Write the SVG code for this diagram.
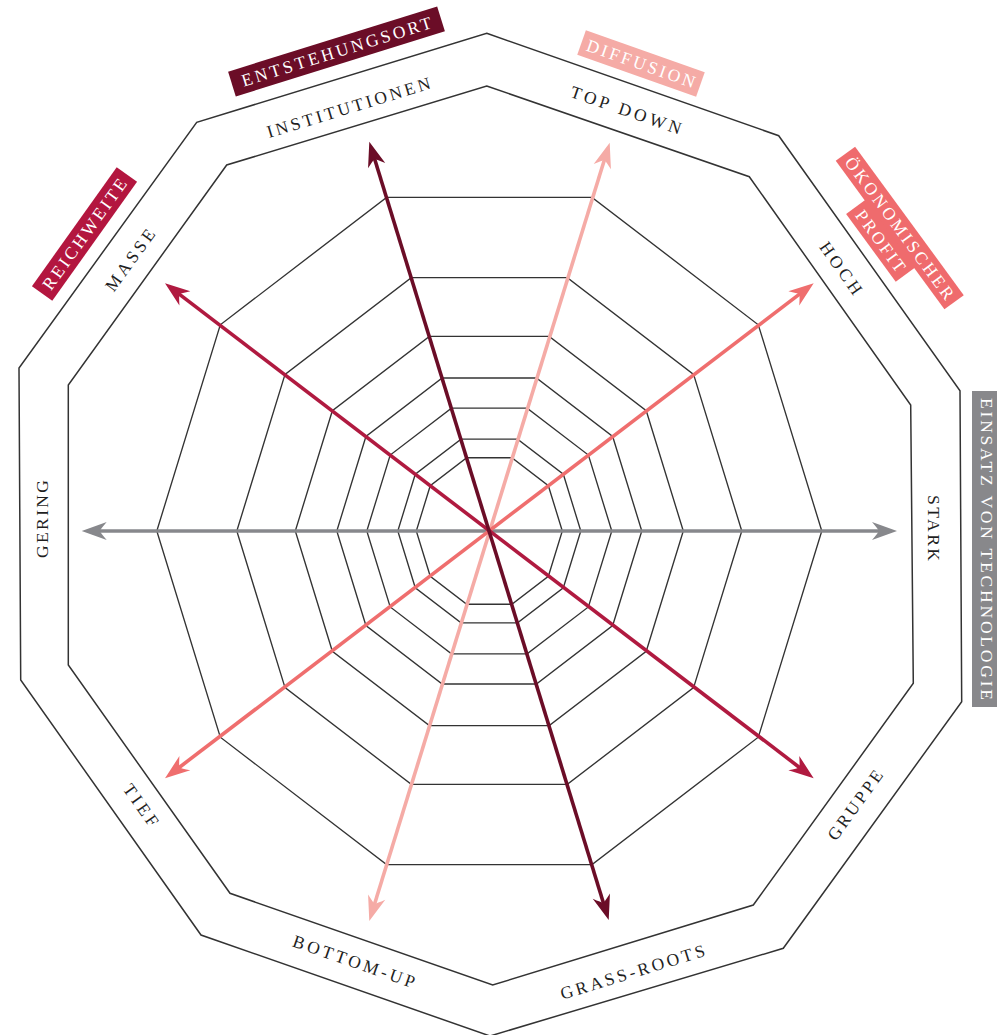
<svg xmlns="http://www.w3.org/2000/svg" width="997" height="1035" viewBox="0 0 997 1035">
<style>
.frame{fill:none;stroke:#333333;stroke-width:1.5;stroke-linejoin:miter}
.grid{fill:none;stroke:#333333;stroke-width:1.35}
.lbl{font-family:"Liberation Serif","DejaVu Serif",serif;font-size:17.5px;fill:#1f1f1f;text-anchor:middle}
.tag{font-family:"Liberation Serif","DejaVu Serif",serif;font-size:17.5px;fill:#ffffff;text-anchor:middle}
.ax{fill:none;stroke-width:3.6}
</style>
<defs>
<marker id="hGray" markerUnits="userSpaceOnUse" markerWidth="40" markerHeight="40" refX="0" refY="0" viewBox="-20 -20 40 40" orient="auto-start-reverse" overflow="visible"><path d="M15,0 L-10,-9 Q-4,-2 -3,0 Q-4,2 -10,9 Z" fill="#87888c"/></marker>
<marker id="hMaroon" markerUnits="userSpaceOnUse" markerWidth="40" markerHeight="40" refX="0" refY="0" viewBox="-20 -20 40 40" orient="auto-start-reverse" overflow="visible"><path d="M15,0 L-10,-9 Q-4,-2 -3,0 Q-4,2 -10,9 Z" fill="#6b0d27"/></marker>
<marker id="hPink" markerUnits="userSpaceOnUse" markerWidth="40" markerHeight="40" refX="0" refY="0" viewBox="-20 -20 40 40" orient="auto-start-reverse" overflow="visible"><path d="M15,0 L-10,-9 Q-4,-2 -3,0 Q-4,2 -10,9 Z" fill="#f5aba6"/></marker>
<marker id="hCoral" markerUnits="userSpaceOnUse" markerWidth="40" markerHeight="40" refX="0" refY="0" viewBox="-20 -20 40 40" orient="auto-start-reverse" overflow="visible"><path d="M15,0 L-10,-9 Q-4,-2 -3,0 Q-4,2 -10,9 Z" fill="#ef6e6e"/></marker>
<marker id="hCrimson" markerUnits="userSpaceOnUse" markerWidth="40" markerHeight="40" refX="0" refY="0" viewBox="-20 -20 40 40" orient="auto-start-reverse" overflow="visible"><path d="M15,0 L-10,-9 Q-4,-2 -3,0 Q-4,2 -10,9 Z" fill="#b01a40"/></marker>
</defs>

<g id="frames">
<polygon class="frame" points="486.7,33.3 778.7,135.7 960,390.7 961.7,701.7 783.3,948.3 490,1036 201,935 20.7,680 19,368 196.7,122.3"/>
<polygon class="frame" points="486.7,86 749.3,176.7 910.7,405 913.3,683.3 753.3,905 492.7,985 230,893.3 68.3,665 68.3,385 226.7,165"/>
</g>

<g id="grid">
<polygon class="grid" points="562.3,531 548.36,485.73 511.86,457.75 466.74,457.75 430.24,485.73 416.3,531 430.24,576.27 466.74,604.25 511.86,604.25 548.36,576.27"/>
<polygon class="grid" points="580.8,531 563.33,474.26 517.58,439.19 461.02,439.19 415.27,474.26 397.8,531 415.27,587.74 461.02,622.81 517.58,622.81 563.33,587.74"/>
<polygon class="grid" points="611.8,531 588.4,455.04 527.15,408.09 451.45,408.09 390.2,455.04 366.8,531 390.2,606.96 451.45,653.91 527.15,653.91 588.4,606.96"/>
<polygon class="grid" points="641.8,531 612.68,436.43 536.43,377.99 442.17,377.99 365.92,436.43 336.8,531 365.92,625.57 442.17,684.01 536.43,684.01 612.68,625.57"/>
<polygon class="grid" points="683.3,531 646.25,410.7 549.25,336.35 429.35,336.35 332.35,410.7 295.3,531 332.35,651.3 429.35,725.65 549.25,725.65 646.25,651.3"/>
<polygon class="grid" points="741.8,531 693.58,374.42 567.33,277.65 411.27,277.65 285.02,374.42 236.8,531 285.02,687.58 411.27,784.35 567.33,784.35 693.58,687.58"/>
<polygon class="grid" points="821.8,531 758.3,324.81 592.05,197.38 386.55,197.38 220.3,324.81 156.8,531 220.3,737.19 386.55,864.62 592.05,864.62 758.3,737.19"/>
</g>

<g id="connectors">
<path class="ax" d="M96.7,531 L882,531" stroke="#87888c" stroke-width="4" marker-start="url(#hGray)" marker-end="url(#hGray)"/>
<path class="ax" d="M373.72,906.66 L605.27,157.04" stroke="#f5aba6" marker-start="url(#hPink)" marker-end="url(#hPink)"/>
<path class="ax" d="M176.93,769.2 L801.77,292.4" stroke="#ef6e6e" marker-start="url(#hCoral)" marker-end="url(#hCoral)"/>
<path class="ax" d="M176.93,292.4 L801.77,769.2" stroke="#b01a40" marker-start="url(#hCrimson)" marker-end="url(#hCrimson)"/>
<path class="ax" d="M373.71,156.04 L604.29,905.66" stroke="#6b0d27" marker-start="url(#hMaroon)" marker-end="url(#hMaroon)"/>
</g>

<g id="label-institutionen" transform="translate(348.5,107.5) rotate(-17)"><text class="lbl" x="0" y="6" textLength="170" lengthAdjust="spacing">INSTITUTIONEN</text></g>
<g id="label-topdown" transform="translate(626,110) rotate(19)"><text class="lbl" x="0" y="6" textLength="116" lengthAdjust="spacing">TOP DOWN</text></g>
<g id="label-hoch" transform="translate(841,268) rotate(54.7)"><text class="lbl" x="0" y="6" textLength="60" lengthAdjust="spacing">HOCH</text></g>
<g id="label-stark" transform="translate(934,528) rotate(90)"><text class="lbl" x="0" y="6" textLength="66" lengthAdjust="spacing">STARK</text></g>
<g id="label-gruppe" transform="translate(855,805) rotate(-54.2)"><text class="lbl" x="0" y="6" textLength="82" lengthAdjust="spacing">GRUPPE</text></g>
<g id="label-grassroots" transform="translate(632.5,972) rotate(-17.1)"><text class="lbl" x="0" y="6" textLength="150" lengthAdjust="spacing">GRASS-ROOTS</text></g>
<g id="label-bottomup" transform="translate(354,961.5) rotate(19.2)"><text class="lbl" x="0" y="6" textLength="128" lengthAdjust="spacing">BOTTOM-UP</text></g>
<g id="label-tief" transform="translate(141,805) rotate(54.7)"><text class="lbl" x="0" y="6" textLength="48" lengthAdjust="spacing">TIEF</text></g>
<g id="label-gering" transform="translate(42,519) rotate(-90)"><text class="lbl" x="0" y="6" textLength="78" lengthAdjust="spacing">GERING</text></g>
<g id="label-masse" transform="translate(130,260) rotate(-54.25)"><text class="lbl" x="0" y="6" textLength="72" lengthAdjust="spacing">MASSE</text></g>

<g id="tag-entstehungsort" transform="translate(336.5,51.5) rotate(-17.3)"><rect x="-109.5" y="-13" width="219" height="26" fill="#6b0d27"/><text class="tag" x="0" y="6" textLength="198" lengthAdjust="spacing">ENTSTEHUNGSORT</text></g>
<g id="tag-diffusion" transform="translate(641,63.5) rotate(19.4)"><rect x="-63" y="-13" width="126" height="26" fill="#f5aba6"/><text class="tag" x="0" y="6" textLength="114" lengthAdjust="spacing">DIFFUSION</text></g>
<g id="tag-reichweite" transform="translate(84.5,234) rotate(-54.5)"><rect x="-73" y="-12.5" width="146" height="25" fill="#b3163f"/><text class="tag" x="0" y="6" textLength="132" lengthAdjust="spacing">REICHWEITE</text></g>
<g id="tag-profit" transform="translate(899.75,228) rotate(53.8)"><rect x="-92" y="-12" width="184" height="24" fill="#ef6b6d"/><rect x="-43" y="11" width="84" height="24" fill="#ef6b6d"/><text class="tag" x="0" y="6" textLength="172" lengthAdjust="spacing">ÖKONOMISCHER</text><text class="tag" x="-1" y="29" textLength="72" lengthAdjust="spacing">PROFIT</text></g>
<g id="tag-technologie"><rect x="972" y="391" width="30" height="316" fill="#88888b"/><text class="tag" transform="translate(986.5,549) rotate(90)" x="0" y="6" textLength="302" lengthAdjust="spacing">EINSATZ  VON TECHNOLOGIE</text></g>
</svg>
